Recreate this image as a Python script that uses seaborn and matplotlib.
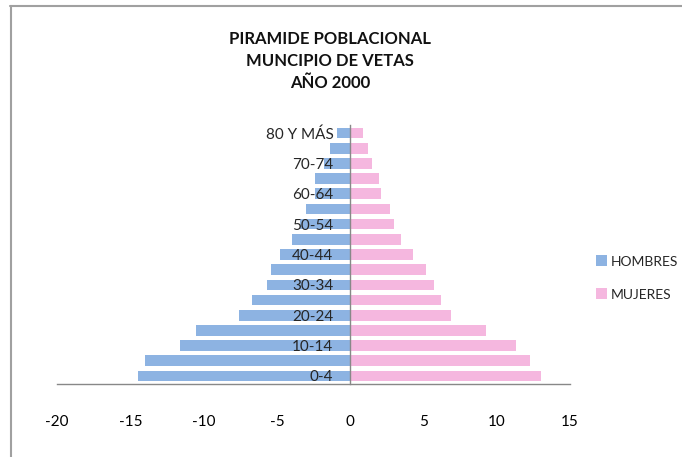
import matplotlib
matplotlib.use("Agg")
import matplotlib.pyplot as plt
import seaborn as sns
import pandas as pd
from matplotlib.patches import Patch
from matplotlib.lines import Line2D

# Age groups from youngest (bottom) to oldest (top)
age_groups = ["0-4", "5-9", "10-14", "15-19", "20-24", "25-29", "30-34", "35-39",
              "40-44", "45-49", "50-54", "55-59", "60-64", "65-69", "70-74", "75-79",
              "80 Y MÁS"]
hombres = [-14.5, -14.0, -11.6, -10.5, -7.6, -6.7, -5.7, -5.4,
           -4.8, -4.0, -3.4, -3.0, -2.4, -2.4, -1.8, -1.4, -0.9]
mujeres = [13.0, 12.3, 11.3, 9.3, 6.9, 6.2, 5.7, 5.2,
           4.3, 3.5, 3.0, 2.7, 2.1, 2.0, 1.5, 1.2, 0.9]
x_ticks = [-20, -15, -10, -5, 0, 5, 10, 15]
series_names = ["HOMBRES", "MUJERES"]
title_text = "PIRAMIDE POBLACIONAL\nMUNCIPIO DE VETAS\nAÑO 2000"

blue = "#8DB3E2"
pink = "#F5B7DF"

sns.set_theme(style="white")
plt.rcParams['font.family'] = ['Lato', 'DejaVu Sans']

order = age_groups[::-1]  # top to bottom
df = pd.DataFrame({
    "edad": age_groups * 2,
    "valor": hombres + mujeres,
    "sexo": [series_names[0]] * len(age_groups) + [series_names[1]] * len(age_groups),
})

fig = plt.figure(figsize=(6.82, 4.57), dpi=100)
ax = fig.add_axes([57 / 682, 1 - 384 / 457, (570 - 57) / 682, (384 - 125) / 457])

sns.barplot(data=df, y="edad", x="valor", hue="sexo", order=order,
            hue_order=series_names, palette=[blue, pink], dodge=False,
            saturation=1, width=0.7, orient="h", ax=ax, legend=False, linewidth=0)

n = len(age_groups)
ax.set_ylim(n - 1 + 0.53, -0.53)
ax.set_xlim(-20, 15)
ax.set_xticks(x_ticks)
ax.set_xticklabels([str(t) for t in x_ticks], fontsize=11, color="#000000")
ax.tick_params(axis="x", length=0, pad=22)

# category labels every other group, placed along the zero axis
shown = [i for i in range(n) if i % 2 == 0]
ax.set_yticks([order.index(age_groups[i]) for i in shown])
ax.set_yticklabels([age_groups[i] for i in shown], fontsize=9.5, color="#222222")
ax.spines["left"].set_position(("data", 0))
ax.spines["left"].set_color("#888888")
ax.spines["left"].set_linewidth(1)
ax.tick_params(axis="y", length=0, pad=12)
for lbl in ax.get_yticklabels():
    lbl.set_zorder(5)
ax.set_axisbelow(False)
for sp in ["top", "right"]:
    ax.spines[sp].set_visible(False)
ax.spines["bottom"].set_color("#888888")
ax.spines["bottom"].set_linewidth(1)
ax.set_xlabel("")
ax.set_ylabel("")
ax.grid(False)

fig.text(330 / 682, 1 - 61 / 457, title_text, ha="center", va="center",
         fontsize=12, fontweight="bold", linespacing=1.5, color="#111111")

handles = [Patch(facecolor=blue, edgecolor="none"), Patch(facecolor=pink, edgecolor="none")]
fig.legend(handles, series_names, loc="center left",
           bbox_to_anchor=(590 / 682, 1 - 278 / 457), frameon=False,
           fontsize=10, handlelength=0.8, handleheight=0.8, handletextpad=0.3,
           labelspacing=1.5, borderaxespad=0)

# outer frame lines (top and left)
fig.add_artist(Line2D([10 / 682, 1], [1 - 5.5 / 457, 1 - 5.5 / 457],
                      transform=fig.transFigure, color="#A0A0A0", linewidth=1.5))
fig.add_artist(Line2D([10.5 / 682, 10.5 / 682], [0, 1 - 5.5 / 457],
                      transform=fig.transFigure, color="#A0A0A0", linewidth=1.5))

fig.savefig("out.png", dpi=100)
